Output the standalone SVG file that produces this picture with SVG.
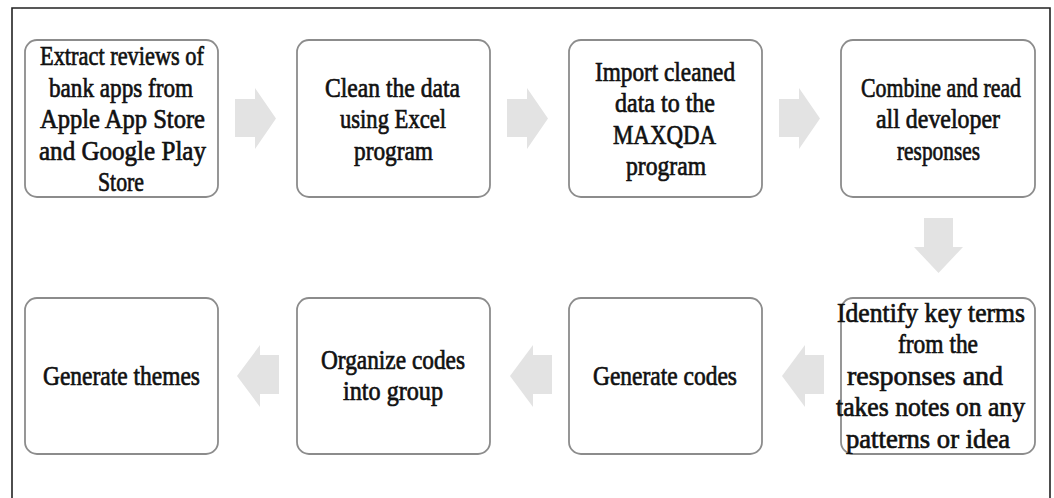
<svg xmlns="http://www.w3.org/2000/svg" width="1054" height="498" viewBox="0 0 1054 498">
<style>
.box{fill:#fff;stroke:#8c8c8c;stroke-width:1.8}
.arr{fill:#e3e3e3}
.frame{stroke:#222;stroke-width:1.6;fill:none}
text{font-family:"Liberation Serif","Times New Roman",serif;font-size:28px;font-weight:normal;fill:#111;stroke:#111;stroke-width:0.7}
</style>
<rect width="1054" height="498" fill="#fff"/>
<path class="frame" d="M12,498 V8 H1050 V498"/>
<g id="connectors">
<polygon class="arr" points="235,99 255,99 255,88 276,118.5 255,149 255,137 235,137"/>
<polygon class="arr" points="507,99 527,99 527,88 548,118.5 527,149 527,137 507,137"/>
<polygon class="arr" points="779,99 799,99 799,88 820,118.5 799,149 799,137 779,137"/>
<polygon class="arr" points="924,218 953,218 953,247 963,247 938.5,273 914,247 924,247"/>
<polygon class="arr" points="824,355 805,355 805,345 782,376 805,407 805,394 824,394"/>
<polygon class="arr" points="552,355 533,355 533,345 510,376 533,407 533,394 552,394"/>
<polygon class="arr" points="279,355 260,355 260,345 237,376 260,407 260,394 279,394"/>
</g>
<g id="n1">
<rect class="box" x="25" y="40" width="193" height="157" rx="12"/>
<text x="40" y="65" textLength="164" lengthAdjust="spacingAndGlyphs">Extract reviews of</text>
<text x="49" y="96.5" textLength="144" lengthAdjust="spacingAndGlyphs">bank apps from</text>
<text x="40" y="128" textLength="165" lengthAdjust="spacingAndGlyphs">Apple App Store</text>
<text x="39" y="159.5" textLength="167" lengthAdjust="spacingAndGlyphs">and Google Play</text>
<text x="98" y="191" textLength="46" lengthAdjust="spacingAndGlyphs">Store</text>
</g>
<g id="n2">
<rect class="box" x="297" y="40" width="193" height="157" rx="12"/>
<text x="325" y="96.5" textLength="135" lengthAdjust="spacingAndGlyphs">Clean the data</text>
<text x="340" y="128" textLength="106" lengthAdjust="spacingAndGlyphs">using Excel</text>
<text x="354" y="159.5" textLength="79" lengthAdjust="spacingAndGlyphs">program</text>
</g>
<g id="n3">
<rect class="box" x="569" y="40" width="193" height="157" rx="12"/>
<text x="595" y="81" textLength="140" lengthAdjust="spacingAndGlyphs">Import cleaned</text>
<text x="615" y="112" textLength="100" lengthAdjust="spacingAndGlyphs">data to the</text>
<text x="613" y="143.5" textLength="103" lengthAdjust="spacingAndGlyphs">MAXQDA</text>
<text x="626" y="175" textLength="80" lengthAdjust="spacingAndGlyphs">program</text>
</g>
<g id="n4">
<rect class="box" x="841" y="40" width="194" height="157" rx="12"/>
<text x="861" y="96.5" textLength="160" lengthAdjust="spacingAndGlyphs">Combine and read</text>
<text x="876" y="128" textLength="124" lengthAdjust="spacingAndGlyphs">all developer</text>
<text x="897" y="159.5" textLength="83" lengthAdjust="spacingAndGlyphs">responses</text>
</g>
<g id="n5">
<rect class="box" x="841" y="298" width="194" height="156" rx="12"/>
<text x="837" y="321.5" textLength="188" lengthAdjust="spacingAndGlyphs">Identify key terms</text>
<text x="898" y="353" textLength="80" lengthAdjust="spacingAndGlyphs">from the</text>
<text x="847" y="384.5" textLength="156" lengthAdjust="spacingAndGlyphs">responses and</text>
<text x="836" y="416" textLength="189" lengthAdjust="spacingAndGlyphs">takes notes on any</text>
<text x="846" y="447.5" textLength="164" lengthAdjust="spacingAndGlyphs">patterns or idea</text>
</g>
<g id="n6">
<rect class="box" x="569" y="298" width="193" height="156" rx="12"/>
<text x="593" y="384.5" textLength="144" lengthAdjust="spacingAndGlyphs">Generate codes</text>
</g>
<g id="n7">
<rect class="box" x="297" y="298" width="193" height="156" rx="12"/>
<text x="321" y="368.5" textLength="144" lengthAdjust="spacingAndGlyphs">Organize codes</text>
<text x="343" y="400" textLength="100" lengthAdjust="spacingAndGlyphs">into group</text>
</g>
<g id="n8">
<rect class="box" x="25" y="298" width="193" height="156" rx="12"/>
<text x="43" y="384.5" textLength="157" lengthAdjust="spacingAndGlyphs">Generate themes</text>
</g>
</svg>
